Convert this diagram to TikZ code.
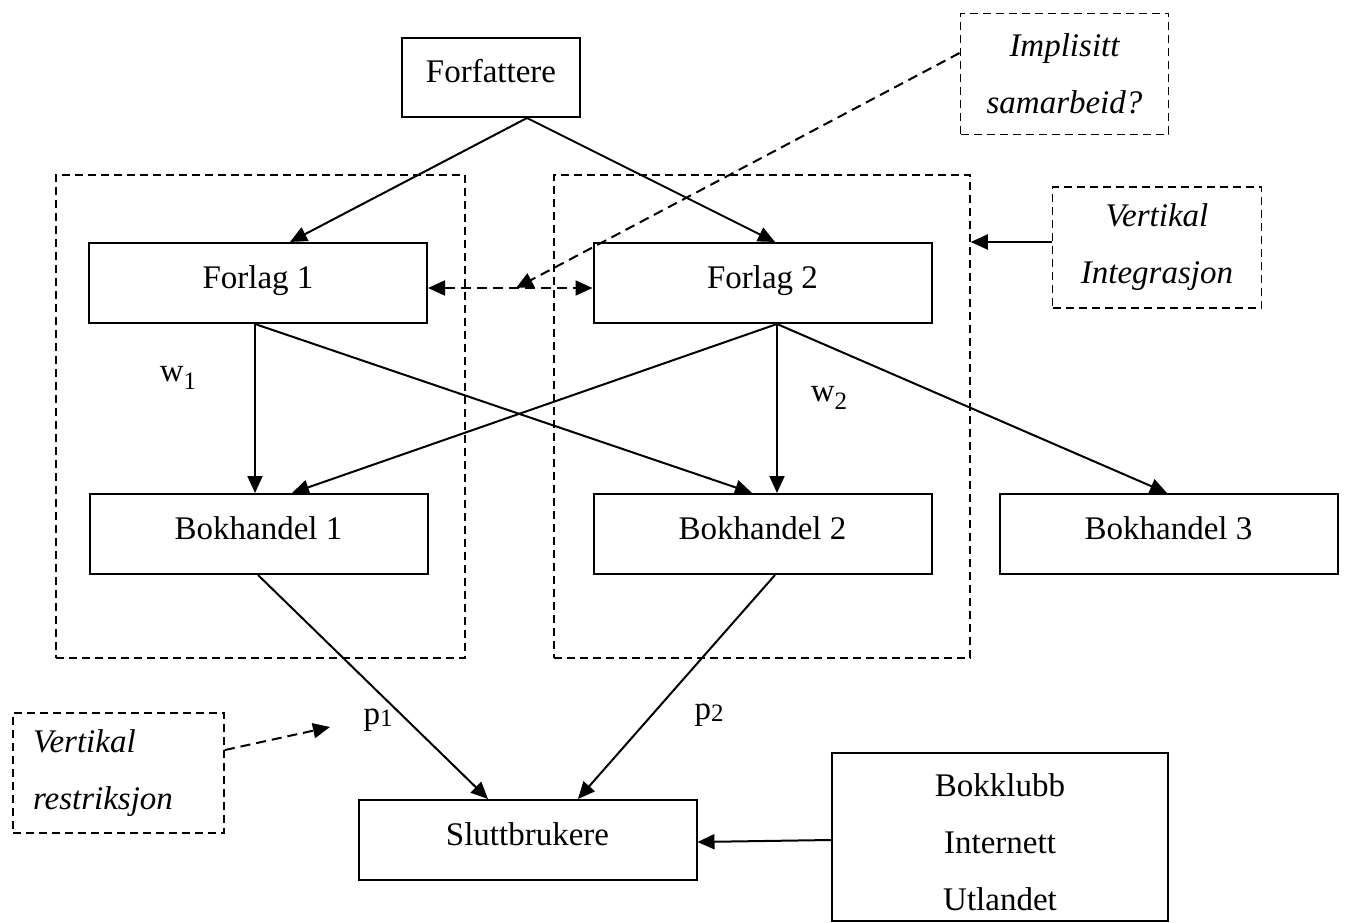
\documentclass[tikz,border=0pt]{standalone}
\usepackage{fontspec}
\setmainfont{Liberation Serif}
\usetikzlibrary{arrows.meta}
\begin{document}
\begin{tikzpicture}[x=1pt,y=-1pt,
  font=\fontsize{33}{57}\selectfont,
  line width=2pt,
  boxnode/.style={draw, minimum width=338pt, minimum height=80pt, inner sep=0pt, text height=25pt, text depth=14pt},
  plainbox/.style={draw, inner sep=0pt},
  dashbox/.style={draw, dash pattern=on 8pt off 5pt, inner sep=0pt, line width=1.8pt},
  grp/.style={draw, dash pattern=on 8pt off 5pt, line width=1.5pt, inner sep=0pt},
  arr/.style={-{Triangle[length=17pt,width=15pt]}},
  darr/.style={dash pattern=on 10pt off 6pt, -{Triangle[length=17pt,width=15pt]}},
  ddarr/.style={dash pattern=on 10pt off 6pt, {Triangle[length=17pt,width=15pt]}-{Triangle[length=17pt,width=15pt]}},
  lab/.style={inner sep=0pt}
]
\useasboundingbox (0,0) rectangle (1347,923);
\node[grp, minimum width=409pt, minimum height=483pt] (g1) at (260.5,416.5) {};
\node[grp, minimum width=416pt, minimum height=483pt] (g2) at (762,416.5) {};
\node[boxnode, minimum width=178pt, minimum height=79pt] (forf) at (491,77.5) {Forfattere};
\node[dashbox, minimum width=208pt, minimum height=121pt, align=center] (impl) at (1064.5,74) {\itshape Implisitt\\ \itshape samarbeid?};
\node[boxnode] (f1) at (258,283) {Forlag 1};
\node[boxnode] (f2) at (762.5,283) {Forlag 2};
\node[dashbox, minimum width=209pt, minimum height=121pt, align=center] (vi) at (1157,247.5) {\itshape Vertikal\\ \itshape Integrasjon};
\node[boxnode] (b1) at (258.5,534) {Bokhandel 1};
\node[boxnode] (b2) at (762.5,534) {Bokhandel 2};
\node[boxnode] (b3) at (1168.5,534) {Bokhandel 3};
\node[boxnode] (s) at (527.5,840) {Sluttbrukere};
\node[plainbox, minimum width=336pt, minimum height=168pt] (bk) at (1000,837) {};
\node[lab, align=center] (bkt) at (1000,842) {Bokklubb\\ Internett\\ Utlandet};
\node[dashbox, minimum width=211pt, minimum height=120pt, align=left, text width=171pt] (vr) at (118.5,773) {\itshape Vertikal\\ \itshape restriksjon};
\node[lab] (w1) at (178,378) {w\raisebox{-0.22em}{\fontsize{25}{25}\selectfont 1}};
\node[lab] (w2) at (829,398) {w\raisebox{-0.22em}{\fontsize{25}{25}\selectfont 2}};
\node[lab] (p1) at (378,720) {p\raisebox{-0.08em}{\fontsize{25}{25}\selectfont 1}};
\node[lab] (p2) at (709,715) {p\raisebox{-0.08em}{\fontsize{25}{25}\selectfont 2}};
\coordinate (mid) at (516,288);
\coordinate (vrend) at (330,727);
% solid arrows
\draw[arr] ([xshift=36pt]forf.south) -- ([xshift=32pt]f1.north);
\draw[arr] ([xshift=36pt]forf.south) -- ([xshift=12.5pt]f2.north);
\draw[arr] ([xshift=-3pt]f1.south) -- ([xshift=-3.5pt]b1.north);
\draw[arr] ([xshift=-3pt]f1.south) -- ([xshift=-10.5pt]b2.north);
\draw[arr] ([xshift=14.5pt]f2.south) -- ([xshift=33.5pt]b1.north);
\draw[arr] ([xshift=14.5pt]f2.south) -- ([xshift=14.5pt]b2.north);
\draw[arr] ([xshift=14.5pt]f2.south) -- ([xshift=-1.5pt]b3.north);
\draw[arr] ([xshift=-0.5pt]b1.south) -- ([xshift=-39.5pt]s.north);
\draw[arr] ([xshift=12.5pt]b2.south) -- ([xshift=50.5pt]s.north);
\coordinate (viA) at ([yshift=5.5pt]vi.west);
\draw[arr] (viA) -- (viA -| g2.east);
\draw[arr] ([yshift=-3pt]bk.west) -- ([yshift=-2pt]s.east);
% dashed arrows
\draw[ddarr] ([yshift=-5pt]f1.east) -- ([yshift=-5pt]f2.west);
\draw[darr] ([yshift=21pt]impl.west) -- (mid);
\draw[darr] ([yshift=23pt]vr.east) -- (vrend);
\end{tikzpicture}
\end{document}
